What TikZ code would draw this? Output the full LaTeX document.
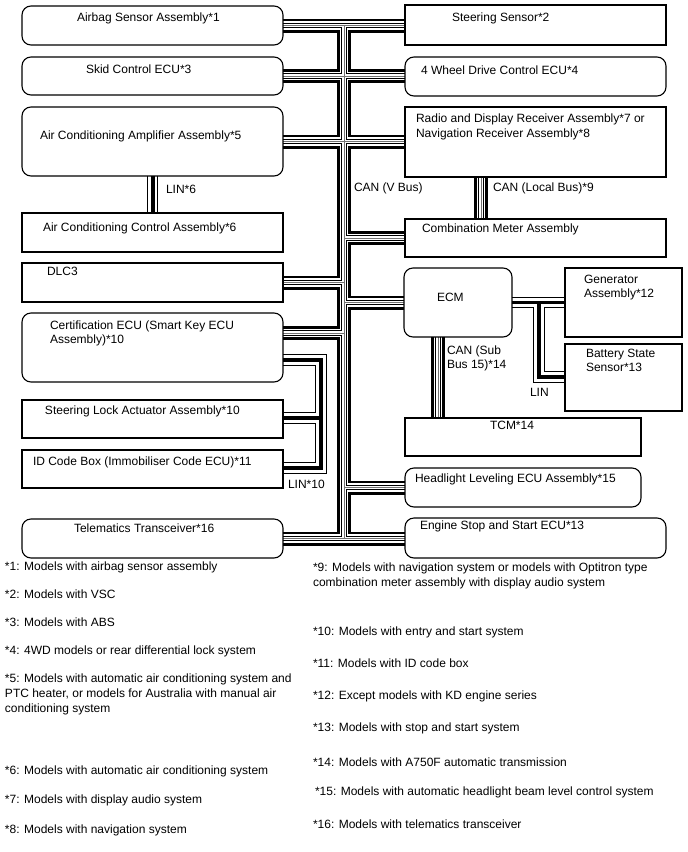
\documentclass[tikz,border=0pt]{standalone}
\usepackage{fontspec}
\setmainfont{Liberation Sans}
\newcommand\boxat[6]{%
  \pgfmathsetmacro\myBW{#5-#3}\pgfmathsetmacro\myBH{#6-#4}%
  \node[#1, minimum width=\myBW pt, minimum height=\myBH pt, anchor=north west] (#2) at (#3,#4) {};}
\begin{document}
\begin{tikzpicture}[x=1pt,y=-1pt,
  every node/.style={inner sep=0pt, outer sep=0pt},
  txt/.style={anchor=base west, font=\fontsize{12}{15}\selectfont},
  rbox/.style={rectangle},
  sbox/.style={rectangle},
  border/.style={line width=1.1pt},
  rborder/.style={line width=1.1pt, rounded corners=9pt},
  bus/.style={line cap=butt, line join=miter},
]
\useasboundingbox[fill=white] (0,0) rectangle (688,852);

% ---------- boxes (positions) ----------
\boxat{rbox}{airbag}{22}{6}{283}{45}
\boxat{rbox}{skid}{22}{57}{283}{95}
\boxat{rbox}{acamp}{22}{107}{283}{176}
\boxat{sbox}{acctl}{22}{213}{283}{252}
\boxat{sbox}{dlc}{22}{263}{283}{302}
\boxat{rbox}{cert}{22}{313}{283}{382}
\boxat{sbox}{slock}{22}{400}{283}{438}
\boxat{sbox}{idbox}{22}{450}{283}{488}
\boxat{rbox}{tele}{22}{519}{283}{558}
\boxat{sbox}{steer}{405}{5}{666}{45}
\boxat{rbox}{fwd}{405}{57}{666}{96}
\boxat{sbox}{radio}{405}{107}{666}{177}
\boxat{sbox}{comb}{405}{219}{666}{257}
\boxat{rbox}{ecm}{404}{268}{512}{337}
\boxat{sbox}{gen}{565}{268}{682}{337}
\boxat{sbox}{batt}{565}{344}{682}{411}
\boxat{sbox}{tcm}{405}{418}{641}{456}
\boxat{rbox}{head}{405}{468}{641}{507}
\boxat{rbox}{estop}{405}{518}{666}{558}

% ---------- coordinates ----------
\coordinate (tT) at (344,25.5);
\coordinate (tB) at (344,538.5);
\coordinate (certcan) at (283,333);
\coordinate (lbA) at (481,177);
\coordinate (lbB) at (481,219);
\coordinate (sbA) at (438,337);
\coordinate (sbB) at (438,418);
\coordinate (l6A) at (152.7,176);
\coordinate (l6B) at (152.7,213);
\coordinate (lecm) at (539,302.5);
\coordinate (lbat) at (539,377);
\coordinate (l10a) at (283,360);
\coordinate (l10b) at (321,360);
\coordinate (l10c) at (321,468);
\coordinate (l10d) at (283,468);
\coordinate (l10e) at (321,418);
\coordinate (l10f) at (283,418);

\newcommand\canroutes[1]{%
  \draw[bus,#1] (airbag.east) -- (airbag.east -| steer.west);
  \draw[bus,#1] (tT) -- (tB);
  \draw[bus,#1] (skid.east) -- (skid.east -| fwd.west);
  \draw[bus,#1] (acamp.east) -- (acamp.east -| radio.west);
  \draw[bus,#1] (comb.west) -- (comb.west -| tT);
  \draw[bus,#1] (dlc.east) -- (dlc.east -| tT);
  \draw[bus,#1] (ecm.west) -- (ecm.west -| tT);
  \draw[bus,#1] (certcan) -- (certcan -| tT);
  \draw[bus,#1] (head.west) -- (head.west -| tT);
  \draw[bus,#1] (tele.east) -- (tele.east -| estop.west);
  \draw[bus,#1] (lbA) -- (lbB);
  \draw[bus,#1] (sbA) -- (sbB);
}
\canroutes{line width=14pt,black}
\canroutes{line width=8.6pt,white}
\canroutes{line width=5.6pt,black}
\canroutes{line width=3.8pt,white}
\canroutes{line width=0.6pt,black!55}

\newcommand\linroutes[1]{%
  \draw[bus,#1] (l6A) -- (l6B);
  \draw[bus,#1] (ecm.east) -- (ecm.east -| gen.west);
  \draw[bus,#1] (lecm) -- (lbat) -- (lbat -| batt.west);
  \draw[bus,#1] (l10a) -- (l10b) -- (l10c) -- (l10d);
  \draw[bus,#1] (l10e) -- (l10f);
}
\linroutes{line width=11.5pt,black}
\linroutes{line width=9.5pt,white}
\linroutes{line width=3.8pt,black}

% box borders drawn on top of the bus ends
\foreach \n in {airbag,skid,acamp,cert,tele,fwd,ecm,head,estop}
  \draw[rborder] (\n.north west) rectangle (\n.south east);
\foreach \n in {acctl,dlc,slock,idbox,steer,radio,comb,gen,batt,tcm}
  \draw[border] (\n.north west) rectangle (\n.south east);

% ---------- box texts ----------
\node[txt] (t-airbag) at (77,21) {Airbag Sensor Assembly*1};
\node[txt] (t-skid) at (86,73) {Skid Control ECU*3};
\node[txt] (t-acamp) at (40,139.5) {Air Conditioning Amplifier Assembly*5};
\node[txt] (t-lin6) at (166,193) {LIN*6};
\node[txt] (t-acctl) at (43,231.5) {Air Conditioning Control Assembly*6};
\node[txt] (t-dlc) at (47,275) {DLC3};
\node[txt] (t-cert1) at (50,329.5) {Certification ECU (Smart Key ECU};
\node[txt] (t-cert2) at (50,343.5) {Assembly)*10};
\node[txt] (t-slock) at (45,414.5) {Steering Lock Actuator Assembly*10};
\node[txt] (t-idbox) at (33,465.5) {ID Code Box (Immobiliser Code ECU)*11};
\node[txt] (t-lin10) at (288,488) {LIN*10};
\node[txt] (t-tele) at (74,532.5) {Telematics Transceiver*16};

\node[txt] (t-steer) at (452,21) {Steering Sensor*2};
\node[txt] (t-fwd) at (421,74) {4 Wheel Drive Control ECU*4};
\node[txt] (t-radio1) at (416,122) {Radio and Display Receiver Assembly*7 or};
\node[txt] (t-radio2) at (416,137) {Navigation Receiver Assembly*8};
\node[txt] (t-vbus) at (354,191) {CAN (V Bus)};
\node[txt] (t-lbus) at (493,191) {CAN (Local Bus)*9};
\node[txt] (t-comb) at (422,232) {Combination Meter Assembly};
\node[txt] (t-ecm) at (437,301.5) {ECM};
\node[txt] (t-gen1) at (584,283.5) {Generator};
\node[txt] (t-gen2) at (584,297.5) {Assembly*12};
\node[txt] (t-bat1) at (586,357.5) {Battery State};
\node[txt] (t-bat2) at (586,371.5) {Sensor*13};
\node[txt] (t-sub1) at (447,354.5) {CAN (Sub};
\node[txt] (t-sub2) at (447,368.5) {Bus 15)*14};
\node[txt] (t-lin) at (530,396.5) {LIN};
\node[txt] (t-tcm) at (490,429) {TCM*14};
\node[txt] (t-head) at (415,482) {Headlight Leveling ECU Assembly*15};
\node[txt] (t-estop) at (420,529) {Engine Stop and Start ECU*13};

% ---------- footnotes ----------
\node[txt] (f1) at (5,570) {*1: Models with airbag sensor assembly};
\node[txt] (f2) at (5,598) {*2: Models with VSC};
\node[txt] (f3) at (5,626) {*3: Models with ABS};
\node[txt] (f4) at (5,654) {*4: 4WD models or rear differential lock system};
\node[txt] (f5a) at (5,682) {*5: Models with automatic air conditioning system and};
\node[txt] (f5b) at (5,697) {PTC heater, or models for Australia with manual air};
\node[txt] (f5c) at (5,712) {conditioning system};
\node[txt] (f6) at (5,774) {*6: Models with automatic air conditioning system};
\node[txt] (f7) at (5,803) {*7: Models with display audio system};
\node[txt] (f8) at (5,833) {*8: Models with navigation system};
\node[txt] (f9a) at (313,571) {*9: Models with navigation system or models with Optitron type};
\node[txt] (f9b) at (313,586) {combination meter assembly with display audio system};
\node[txt] (f10) at (313,635) {*10: Models with entry and start system};
\node[txt] (f11) at (313,667) {*11: Models with ID code box};
\node[txt] (f12) at (313,699) {*12: Except models with KD engine series};
\node[txt] (f13) at (313,731) {*13: Models with stop and start system};
\node[txt] (f14) at (313,766) {*14: Models with A750F automatic transmission};
\node[txt] (f15) at (315,795) {*15: Models with automatic headlight beam level control system};
\node[txt] (f16) at (313,828) {*16: Models with telematics transceiver};
\end{tikzpicture}
\end{document}
